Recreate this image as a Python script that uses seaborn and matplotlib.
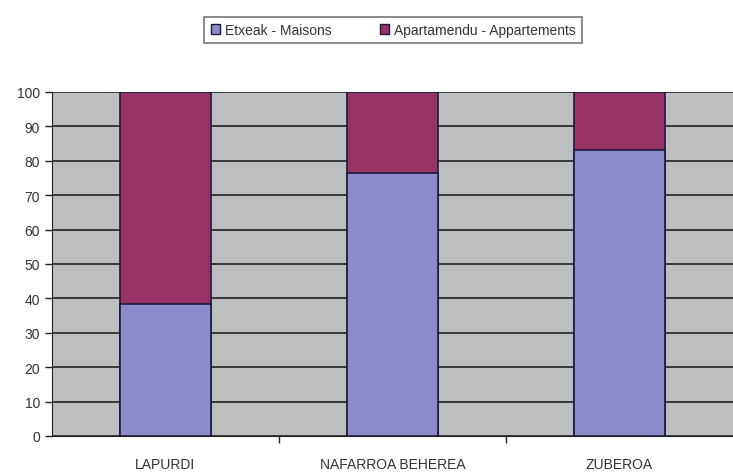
import matplotlib
matplotlib.use("Agg")
import matplotlib.pyplot as plt
import seaborn as sns
import pandas as pd
from matplotlib.patches import Patch

# data
regions = ["LAPURDI", "NAFARROA BEHEREA", "ZUBEROA"]
maisons = [38.5, 76.5, 83]
appartements = [61.5, 23.5, 17]
series_labels = ["Etxeak - Maisons", "Apartamendu - Appartements"]

sns.set_style("white")
plt.rcParams["font.family"] = ["Liberation Sans", "DejaVu Sans"]

df = pd.DataFrame({"region": regions, "maisons": maisons,
                   "total": [m + a for m, a in zip(maisons, appartements)]})

c_blue = "#8c8cca"
c_purple = "#993366"
edge = "#1a1a40"

fig = plt.figure(figsize=(7.33, 4.77), dpi=100)
ax = fig.add_axes([52 / 733, 1 - 437 / 477, 1 - 52 / 733, (437 - 93) / 477])
ax.set_facecolor("#bcbebf")

sns.barplot(data=df, x="region", y="total", color=c_purple, width=0.4,
            edgecolor=edge, linewidth=1.2, saturation=1, ax=ax, zorder=3)
sns.barplot(data=df, x="region", y="maisons", color=c_blue, width=0.4,
            edgecolor=edge, linewidth=1.2, saturation=1, ax=ax, zorder=4)

ax.set_ylim(0, 100)
ax.set_xlim(-0.5, 2.5)
ax.set_yticks(range(0, 101, 10))
ax.yaxis.grid(True, color="#2e2e2e", linewidth=1.3, zorder=1)
ax.set_axisbelow(True)
ax.set_xlabel("")
ax.set_ylabel("")

for s in ["top", "right"]:
    ax.spines[s].set_visible(False)
ax.spines["left"].set_color("#222222")
ax.spines["bottom"].set_color("#222222")

ax.tick_params(axis="y", direction="out", length=5, width=1, color="#222222",
               labelsize=10, labelcolor="#333333", left=True)
ax.tick_params(axis="x", length=0, labelsize=10, labelcolor="#333333", pad=15)
ax.set_xticks([0.5, 1.5], minor=True)
ax.tick_params(axis="x", which="minor", direction="out", length=5, width=1,
               color="#222222", bottom=True)

handles = [Patch(facecolor=c_blue, edgecolor=edge, label=series_labels[0]),
           Patch(facecolor=c_purple, edgecolor=edge, label=series_labels[1])]
fig.legend(handles=handles, loc="center", bbox_to_anchor=(393 / 733, 1 - 31 / 477),
           ncol=2, frameon=True, fancybox=False, edgecolor="#555555",
           fontsize=10, handlelength=0.7, handleheight=0.7, handletextpad=0.3,
           columnspacing=3.5, borderpad=0.45, borderaxespad=0,
           labelcolor="#333333")
fig.legends[0].get_frame().set_linewidth(1.2)

fig.savefig("out.png", dpi=100)
